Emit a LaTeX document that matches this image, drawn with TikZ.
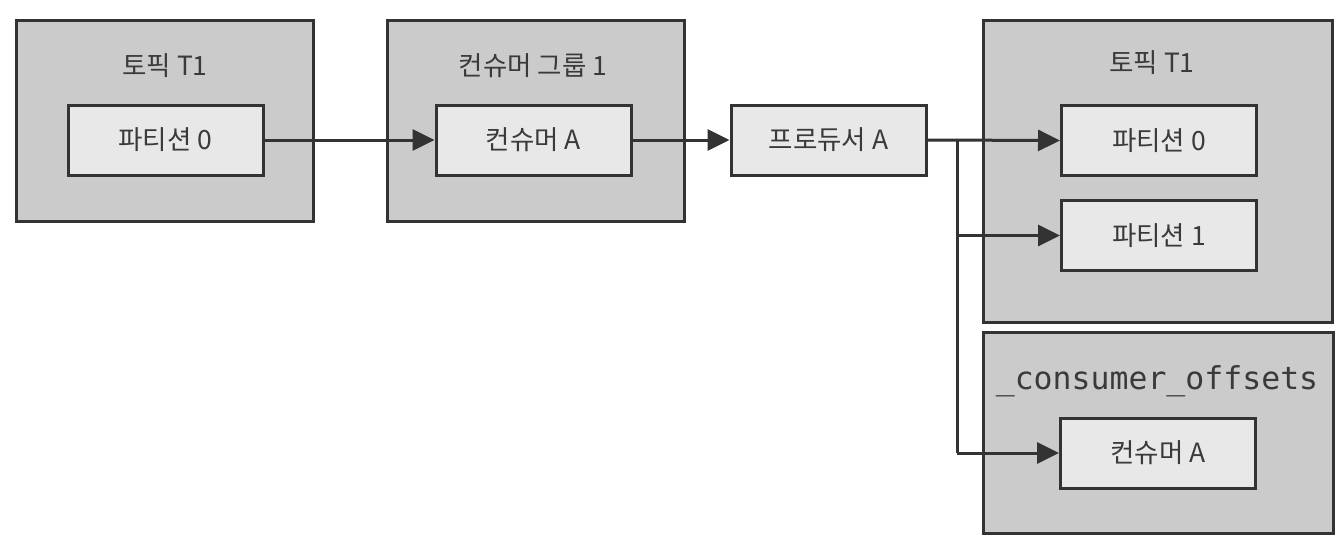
\documentclass[tikz,border=0pt]{standalone}
\usepackage{fontspec}
\setmainfont{Noto Sans CJK KR}
\newfontfamily\monofont{DejaVu Sans Mono}
\usetikzlibrary{arrows.meta}
\definecolor{linec}{HTML}{333333}
\definecolor{outerc}{HTML}{CBCBCB}
\definecolor{innerc}{HTML}{E8E8E8}
\definecolor{textc}{HTML}{3A3A3A}
\begin{document}
\begin{tikzpicture}[x=1pt,y=-1pt,
  outerbox/.style={draw=linec, fill=outerc, line width=3pt, inner sep=0pt},
  innerbox/.style={draw=linec, fill=innerc, line width=3pt, inner sep=0pt,
    minimum width=195pt, minimum height=70pt, text=textc,
    font=\fontsize{26.5}{30}\selectfont},
  titletext/.style={text=textc, font=\fontsize{26.5}{30}\selectfont, inner sep=0pt},
  conn/.style={draw=linec, line width=3pt, -{Triangle[length=22pt,width=21pt]}},
  plainconn/.style={draw=linec, line width=3pt}
]
\useasboundingbox (0,0) rectangle (1344,550);
\fill[white] (0,0) rectangle (1344,550);

% outer boxes
\node[outerbox, minimum width=297pt, minimum height=201pt] (topicL) at (164.5,120.5) {};
\node[outerbox, minimum width=297pt, minimum height=201pt] (group) at (535.5,120.5) {};
\node[outerbox, minimum width=349pt, minimum height=302pt] (topicR) at (1157.5,171) {};
\node[outerbox, minimum width=350pt, minimum height=201pt] (offsets) at (1158,432.5) {};

% titles
\node[titletext] (tL) at (165,66) {토픽 T1};
\node[titletext] (tG) at (533,66) {컨슈머 그룹 1};
\node[titletext] (tR) at (1152,63) {토픽 T1};
\node[text=textc, inner sep=0pt, font=\monofont\fontsize{31.5}{34}\selectfont] (tO) at (1157,381) {\_consumer\_offsets};

% inner boxes
\node[innerbox] (p0L) at (165.5,140) {파티션 0};
\node[innerbox] (cA) at (533.5,140) {컨슈머 A};
\node[innerbox] (prod) at (828.5,140) {프로듀서 A};
\node[innerbox] (p0R) at (1159,140.5) {파티션 0};
\node[innerbox] (p1R) at (1159,235.5) {파티션 1};
\node[innerbox] (cAR) at (1158,453) {컨슈머 A};

% connectors
\coordinate (j0) at (957,140);
\coordinate (j1) at (957,235.5);
\coordinate (j2) at (957,453);
\draw[conn] (p0L) -- (cA);
\draw[conn] (cA) -- (prod);
\draw[conn] (prod.east) -- (p0R.west);
\draw[plainconn] (j0) -- (j2);
\draw[conn] (j1) -- (p1R.west);
\draw[conn] (j2) -- (cAR.west);
\end{tikzpicture}
\end{document}
